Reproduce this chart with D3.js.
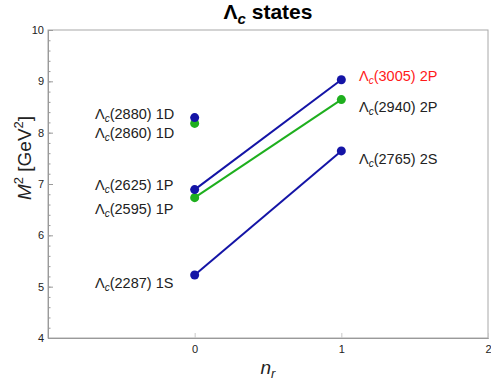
<!DOCTYPE html>
<html>
<head>
<meta charset="utf-8">
<script src="https://cdn.jsdelivr.net/npm/d3@7"></script>
<style>
  body { margin: 0; background: #fff; }
  text { font-family: "Liberation Sans", Arial, sans-serif; }
</style>
</head>
<body>
<script>
// M^2 in GeV^2 for each state, x = n_r
var blueLines = [
  [{n: 0, m2: 5.228}, {n: 1, m2: 7.645}],
  [{n: 0, m2: 6.891}, {n: 1, m2: 9.030}]
];
var greenLines = [
  [{n: 0, m2: 6.734}, {n: 1, m2: 8.644}]
];
var bluePoints = [{n: 0, m2: 8.294}];
var greenPoints = [{n: 0, m2: 8.180}];

// label anchors (in M^2 units)
var leftLabels = [
  {name: "2880", wave: "1D", m2: 8.37},
  {name: "2860", wave: "1D", m2: 8.00},
  {name: "2625", wave: "1P", m2: 6.98},
  {name: "2595", wave: "1P", m2: 6.51},
  {name: "2287", wave: "1S", m2: 5.07}
];
var rightLabels = [
  {name: "3005", wave: "2P", m2: 9.10, red: true},
  {name: "2940", wave: "2P", m2: 8.50},
  {name: "2765", wave: "2S", m2: 7.49}
];

var xTicks = [0, 1, 2];
var yTicks = [4, 5, 6, 7, 8, 9, 10];

var W = 491, H = 383;
var margin = {left: 48, right: 3, top: 30, bottom: 45};

var svg = d3.select("body").append("svg")
  .attr("width", W).attr("height", H);

var x = d3.scaleLinear().domain([-1, 2]).range([margin.left, W - margin.right]);
var y = d3.scaleLinear().domain([4, 10]).range([H - margin.bottom, margin.top]);

var BLUE = "#1414a6", GREEN = "#1eaf1e", AXIS = "#9a9a9a";

// frame
svg.append("rect")
  .attr("x", x(-1)).attr("y", y(10))
  .attr("width", x(2) - x(-1)).attr("height", y(4) - y(10))
  .attr("fill", "none").attr("stroke", "#a8a8a8").attr("stroke-width", 1);

// y axis with minor ticks
var yMinor = d3.range(4, 10.001, 0.2);
svg.append("g")
  .attr("transform", "translate(" + x(-1) + ",0)")
  .call(d3.axisRight(y).tickValues(yMinor).tickSize(2.5).tickFormat(""))
  .call(function(g) { g.select(".domain").remove(); g.selectAll("line").attr("stroke", AXIS); });
svg.append("g")
  .attr("transform", "translate(" + x(-1) + ",0)")
  .call(d3.axisLeft(y).tickValues(yTicks).tickSize(0).tickPadding(4).tickFormat(d3.format("d")))
  .call(function(g) {
    g.select(".domain").attr("stroke", AXIS);
    g.selectAll("text").attr("font-size", 11).attr("fill", "#222")
      .attr("font-family", "Liberation Sans, Arial, sans-serif");
  });
svg.append("g")
  .attr("transform", "translate(" + x(-1) + ",0)")
  .call(d3.axisRight(y).tickValues(yTicks).tickSize(5).tickFormat(""))
  .call(function(g) { g.select(".domain").remove(); g.selectAll("line").attr("stroke", AXIS); });

// x axis
svg.append("g")
  .attr("transform", "translate(0," + y(4) + ")")
  .call(d3.axisTop(x).tickValues(xTicks).tickSize(5).tickFormat(""))
  .call(function(g) { g.select(".domain").attr("stroke", AXIS); g.selectAll("line").attr("stroke", "#c8c8c8"); });
svg.append("g")
  .attr("transform", "translate(0," + y(4) + ")")
  .call(d3.axisBottom(x).tickValues(xTicks).tickSize(0).tickPadding(7).tickFormat(d3.format("d")))
  .call(function(g) {
    g.select(".domain").remove();
    g.selectAll("text").attr("font-size", 11).attr("fill", "#222")
      .attr("font-family", "Liberation Sans, Arial, sans-serif");
  });

// title
var title = svg.append("text")
  .attr("x", (x(-1) + x(2)) / 2).attr("y", 19)
  .attr("text-anchor", "middle").attr("font-size", 21).attr("font-weight", "bold");
title.append("tspan").text("Λ");
title.append("tspan").attr("font-style", "italic").attr("font-size", 15).attr("dy", 5).text("c");
title.append("tspan").attr("dy", -5).text(" states");

// axis labels
var yl = svg.append("text")
  .attr("transform", "translate(31,158) rotate(-90)")
  .attr("text-anchor", "middle").attr("font-size", 19).attr("fill", "#222");
yl.append("tspan").attr("font-style", "italic").text("M");
yl.append("tspan").attr("font-size", 13).attr("dy", -8).text("2");
yl.append("tspan").attr("dy", 8).text(" [GeV");
yl.append("tspan").attr("font-size", 13).attr("dy", -8).text("2");
yl.append("tspan").attr("dy", 8).text("]");

var xl = svg.append("text")
  .attr("x", x(0.5)).attr("y", 374)
  .attr("text-anchor", "middle").attr("font-size", 19).attr("font-style", "italic").attr("fill", "#222");
xl.append("tspan").text("n");
xl.append("tspan").attr("font-size", 13).attr("dy", 4).text("r");

// lines
var line = d3.line().x(function(d) { return x(d.n); }).y(function(d) { return y(d.m2); });
svg.selectAll(".bl").data(blueLines).enter().append("path")
  .attr("d", line).attr("fill", "none").attr("stroke", BLUE).attr("stroke-width", 2);
svg.selectAll(".gl").data(greenLines).enter().append("path")
  .attr("d", line).attr("fill", "none").attr("stroke", GREEN).attr("stroke-width", 2);

function dots(data, color) {
  svg.append("g").selectAll("circle").data(data).enter().append("circle")
    .attr("cx", function(d) { return x(d.n); })
    .attr("cy", function(d) { return y(d.m2); })
    .attr("r", 4.5).attr("fill", color);
}
dots(greenPoints, GREEN);
dots(bluePoints, BLUE);
greenLines.forEach(function(l) { dots(l, GREEN); });
blueLines.forEach(function(l) { dots(l, BLUE); });

// state labels
function labels(data, xpos) {
  data.forEach(function(d) {
    var t = svg.append("text")
      .attr("x", xpos).attr("y", y(d.m2) + 5)
      .attr("font-size", 14.5).attr("fill", d.red ? "#ff1a1a" : "#222");
    t.append("tspan").text("Λ");
    t.append("tspan").attr("font-size", 10).attr("font-style", "italic").attr("dy", 3).text("c");
    t.append("tspan").attr("dy", -3).text("(" + d.name + ") " + d.wave);
  });
}
labels(leftLabels, 95);
labels(rightLabels, 359);
</script>
</body>
</html>
